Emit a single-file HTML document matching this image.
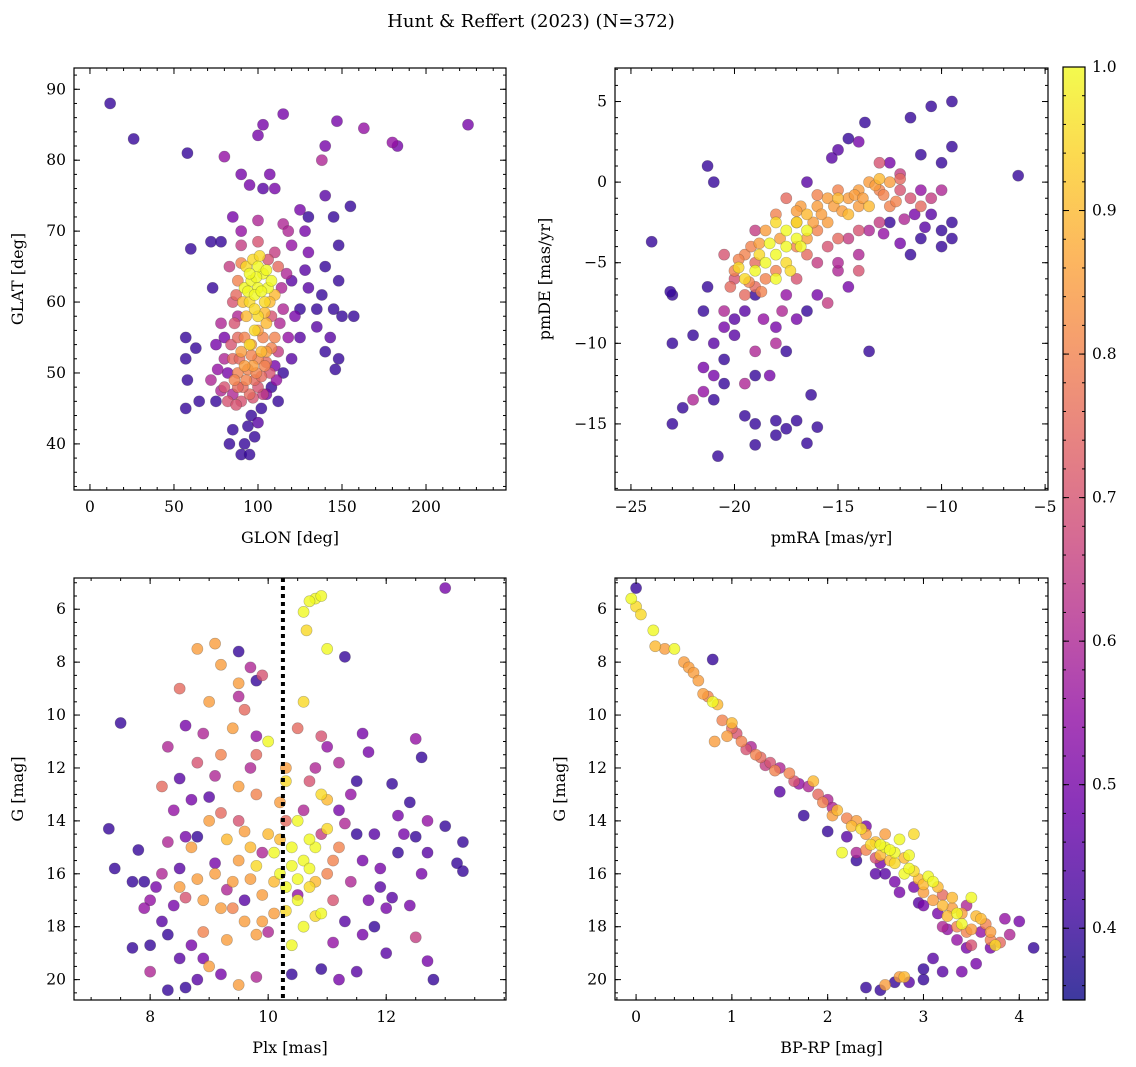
<!DOCTYPE html>
<html><head><meta charset="utf-8">
<style>
body{margin:0;background:#fff;}
svg{display:block;font-family:"DejaVu Serif","Liberation Serif",serif;}
</style></head>
<body>
<svg id="fig" width="1136" height="1067" viewBox="0 0 1136 1067">
<text x="531" y="27" text-anchor="middle" font-size="18">Hunt &amp; Reffert (2023) (N=372)</text>
</svg>
<script>
// ---- data: [x, y, membership probability] ----
const skyPts = [[12,88,.4],[26,83,.4],[58,81,.4],[80,80.5,.55],[100,83.5,.5],[103,85,.5],[115,86.5,.5],[147,85.5,.5],[163,84.5,.55],[180,82.5,.55],[183,82,.5],[225,85,.5],[138,80,.6],[140,82,.5],[90,78,.5],[95,76.5,.5],[103,76,.45],[107,78,.5],[110,76,.5],[125,73,.5],[140,75,.45],[145,72,.4],[155,73.5,.4],[130,72,.4],[60,67.5,.4],[72,68.5,.4],[78,68.5,.4],[85,72,.5],[90,70,.55],[100,71.5,.6],[115,71,.6],[118,70,.6],[128,70,.5],[100,68.5,.7],[110,67,.65],[120,68,.55],[130,67,.5],[148,68,.4],[140,65,.4],[138,61,.4],[148,63,.4],[120,63,.45],[130,62,.45],[125,59,.4],[135,59,.4],[145,59,.4],[150,58,.4],[157,58,.4],[143,55,.45],[140,53,.4],[148,52,.4],[146,50.5,.4],[125,55,.45],[120,52,.45],[110,51,.5],[115,50,.4],[108,48,.4],[112,46,.4],[102,45,.4],[96,44,.4],[98,41,.4],[92,40,.4],[90,38.5,.4],[95,38.5,.4],[83,40,.4],[85,42,.4],[75,46,.4],[65,46,.4],[57,45,.4],[58,49,.4],[57,52,.4],[57,55,.4],[63,53.5,.4],[73,62,.4],[80,55,.5],[78,57,.6],[82,50,.5],[78,47.5,.6],[72,49,.6],[80,48,.7],[85,52,.75],[88,50,.8],[90,53,.85],[93,49,.8],[97,51,.85],[100,52,.8],[103,55,.8],[105,53,.85],[95,47,.75],[90,46,.7],[100,48,.7],[107,50,.7],[85,47,.6],[88,55,.75],[93,58,.9],[98,56,.95],[100,58,.95],[95,60,.95],[92,62,1],[96,63,1],[100,62,1],[103,64,1],[106,62,1],[100,65,1],[93,65,.95],[104,60,.95],[108,63,1],[110,61,.9],[97,66,.95],[88,63,.8],[85,60,.7],[83,65,.65],[90,68,.65],[105,57,.9],[102,53,.9],[95,54,.95],[110,55,.8],[108,58,.7],[115,59,.6],[112,65,.75],[117,64,.6],[88,58,.6],[92,51,.85],[86,49,.8],[98,49,.75],[104,51,.8],
[82,46,.7],[87,45.5,.7],[91,48,.75],[94,50.5,.8],[96,52.5,.8],[99,50,.8],[102,49.5,.75],[105,51.5,.75],[108,53.5,.8],[92,55,.8],[96,54,.85],[100,56,.85],[104,58.5,.9],[98,59,.95],[94,61.5,1],[98,61,1],[102,61.5,1],[105,64.5,1],[99,63.5,1],[95,64,1],[91,60,.9],[101,66.5,.95],[107,60,.9],[89,52,.75],[84,54,.7],[86,57,.7],[112,53,.65],[113,57,.6],[118,55,.55],[80,52,.6],[76,50.5,.55],[88,48,.75],[97,46.5,.7],[103,47,.65],[111,49,.55],[90,65.5,.8],[87,61,.75],[106,66,.7],[114,62,.6],[122,58,.5],[75,54,.5],[94,42.5,.4],[100,43,.45],[105,47,.5],[135,56.5,.45],[128,64.5,.45]];
const pmPts = [[-24,-3.7,.4],[-21.3,1,.4],[-21,0,.4],[-9.5,5,.4],[-10.5,4.7,.4],[-11.5,4,.4],[-13.7,3.7,.4],[-14.5,2.7,.4],[-14,2.5,.5],[-15,2,.45],[-15.3,1.5,.45],[-12.5,1.2,.5],[-11,1.7,.4],[-10,1.2,.4],[-9.5,2.2,.4],[-6.3,.4,.4],[-16.5,0,.45],[-9.5,-2.5,.4],[-9.5,-3.5,.4],[-10,-3,.4],[-10.5,-2,.45],[-11,-3.5,.4],[-10,-4,.4],[-11.5,-4.5,.4],[-12,-3.8,.5],[-12.5,-2.5,.4],[-13.5,-10.5,.4],[-14.5,-6.5,.5],[-15,-5.5,.6],[-16,-7,.5],[-16.5,-8,.4],[-17,-8.5,.5],[-17.5,-7,.55],[-18,-9,.5],[-18,-10,.6],[-19,-10.5,.6],[-19.5,-12.5,.6],[-19,-12,.4],[-20.5,-11,.4],[-20.5,-12.5,.4],[-21,-12,.5],[-21.5,-11.5,.5],[-21.5,-13,.55],[-22,-13.5,.6],[-22.5,-14,.4],[-21,-13.5,.4],[-23,-15,.4],[-23,-10,.4],[-23,-7,.4],[-23.1,-6.8,.4],[-21.3,-6.5,.4],[-21.5,-8,.4],[-22,-9.5,.4],[-20.5,-9,.5],[-20,-9.5,.45],[-20,-8.5,.45],[-19.5,-8,.45],[-20.8,-17,.4],[-19.5,-14.5,.4],[-19,-15,.4],[-19,-16.3,.4],[-18,-15.7,.4],[-17.5,-15.3,.4],[-18,-14.8,.4],[-17,-14.8,.4],[-16.5,-16.2,.4],[-16.3,-13.2,.4],[-16,-15.2,.4],[-18.3,-12,.5],[-17.5,-10.5,.4],[-15,-5,.6],[-19,-7,.4],[-20,-5.5,.8],[-19.5,-4.5,.8],[-19,-5,.75],[-18.5,-3,.85],[-18,-2,.8],[-17.5,-1,.75],[-17,-2.5,.85],[-16.5,-2,.9],[-16,-1.5,.85],[-15.5,-1,.85],[-15,-.5,.8],[-14.5,-1,.85],[-14,-1.5,.85],[-13.5,0,.85],[-13,-.5,.8],[-12.5,0,.85],[-12,-.5,.7],[-11.5,-1,.7],[-11,-1.5,.75],[-10.5,-1,.65],[-10,-.5,.6],[-14,-3,.7],[-13,-2.5,.65],[-15,-3.5,.75],[-16,-3,.8],[-17,-4,.8],[-18,-5.5,.8],[-19,-6.5,.75],[-19.5,-7,.75],[-20,-6,.7],[-20.5,-4.5,.7],[-18.5,-6,.8],[-13,1.2,.7],[-12,.5,.65],[-11,-.5,.55],[-14.5,-2,.9],[-13.5,-1.5,.9],[-15.5,-2.5,.85],[-16.5,-3.5,.85],[-19,-3,.65],[-17,-6,.7],[-14,-5.5,.7],[-15.5,-7.5,.65],[-16.5,-4.5,.75],[-12.5,-1.5,.8],[-13,.2,.9],[-14,-.5,.85],[-18.5,-5,1],[-18,-4.5,1],[-17.5,-4,1],[-17,-3.5,1],[-16.8,-4,1],[-18,-6,1],[-19,-5.5,1],[-17.5,-3,1],[-18.8,-4.5,.95],[-17,-2.5,.95],[-19.5,-6,.95],[-19.8,-5.3,.95],[-18.3,-3.8,1],[-17.5,-5,.95],[-16.5,-3,1],[-18,-2.5,.95],[-17.3,-5.5,.95],
[-15.8,-2,.85],[-15.2,-1.5,.85],[-14.8,-1.8,.85],[-14.2,-.8,.85],[-13.8,-1,.85],[-13.2,-.2,.85],[-12.8,-.8,.8],[-12.2,-1.2,.8],[-16.2,-2.5,.85],[-16.8,-1.5,.85],[-17.8,-3.5,.85],[-18.8,-3.8,.85],[-19.2,-4,.8],[-19.8,-4.8,.8],[-20.2,-6.5,.75],[-19.3,-6.2,.8],[-18.7,-6.8,.8],[-15.5,-4,.7],[-14.5,-3.5,.65],[-13.5,-3,.6],[-12.8,-3.2,.55],[-11.8,-2.3,.6],[-11.3,-2,.5],[-10.8,-2.8,.45],[-14,-4.5,.6],[-16,-5,.65],[-17.7,-8,.6],[-18.6,-8.5,.55],[-20.5,-8,.6],[-21,-10,.45],[-15,-1,.9],[-16,-.8,.8],[-17,-1.8,.85],[-12,0.2,.75]];
const plxPts = [[10.8,5.6,1],[10.7,5.7,1],[10.9,5.5,1],[10.6,6.1,1],[10.65,6.8,.95],[11,7.5,1],[10,11,1],[10.6,9.5,.95],[10.3,12.5,.95],[10.9,13,.95],[10.5,14,1],[10.4,15,1],[10.6,15.5,1],[10.8,15,1],[10.2,16,1],[10.5,17,1],[10.7,16.5,.95],[10.9,17.5,1],[10.6,18,1],[10.4,18.7,1],[10.1,15.2,1],[9.8,15.7,.95],[11,14.3,.95],[10.7,14.7,1],[10.3,16.5,1],[10.8,17.6,.95],[11,13.2,.9],[8.8,7.5,.85],[9.1,7.3,.85],[9.2,8.1,.85],[9.5,8.8,.85],[9,9.5,.85],[9.4,10.5,.85],[9.2,11.5,.8],[9.5,12.7,.85],[9.8,13,.8],[9,14,.85],[8.7,15,.85],[9.3,14.7,.9],[9.5,15.5,.85],[9.7,16.2,.85],[9.9,16.8,.85],[10.1,17.5,.85],[9.6,17.8,.85],[9.3,18.5,.85],[9,19.5,.85],[9.5,20.2,.85],[10,14.5,.9],[10.2,13.3,.85],[9.1,16,.85],[8.9,17,.85],[8.5,16.5,.85],[9.8,18.3,.85],[10.3,12,.85],[9.8,11.5,.75],[10.5,10.5,.75],[10.7,12.5,.7],[9.9,8.5,.7],[8.5,9,.75],[8.2,12.7,.75],[10.9,10.8,.7],[11.2,15,.8],[11,16,.8],[10.3,14,.75],[9.6,9.8,.75],[8.8,11.8,.7],[9.2,13.7,.75],[7.3,14.3,.4],[7.5,10.3,.4],[7.4,15.8,.4],[7.7,16.3,.4],[7.8,15.1,.4],[7.9,16.3,.4],[7.7,18.8,.4],[8,18.7,.4],[8,17,.55],[8.1,16.5,.5],[8,19.7,.6],[8.3,18.3,.4],[8.2,17.8,.45],[8.4,17.2,.5],[8.3,20.4,.4],[8.6,20.3,.4],[8.5,19.2,.45],[8.7,18.7,.5],[8.4,13.6,.55],[8.3,11.2,.6],[8.5,12.4,.45],[8.6,10.4,.5],[8.9,10.7,.6],[9,13.1,.45],[8.6,14.6,.5],[8.8,14.6,.4],[9.5,7.6,.4],[9.8,8.7,.4],[9.7,8.2,.6],[9.5,9.3,.6],[9.8,10.8,.55],[11.3,7.8,.4],[11.2,11.8,.6],[11.5,12.5,.4],[11.6,10.7,.5],[11.7,11.4,.5],[11.2,13.6,.5],[11.5,14.5,.4],[11.6,15.5,.5],[11.8,14.5,.45],[11.9,16.5,.45],[12,17.3,.5],[12.1,12.6,.4],[12.2,15.2,.4],[12.3,14.5,.5],[12.4,13.3,.4],[12.5,10.9,.55],[12.6,11.6,.4],[12.5,14.6,.4],[12.7,15.2,.45],[12.6,16,.5],[12.4,17.2,.5],[12.5,18.4,.65],[12.7,19.3,.5],[12.8,20,.4],[13,14.2,.4],[13.3,14.8,.4],[13.3,15.9,.4],[13.2,15.6,.4],[12.7,14,.55],[13,5.2,.5],[11.8,18,.4],[11.5,19.7,.45],[11.1,18.6,.55],[11.3,17.8,.45],[10.9,19.6,.4],[10.4,19.8,.4],[11.2,20,.5],[9.8,19.9,.6],[9.2,19.8,.5],[8.8,20,.45],[10,18.2,.6],[10.5,16.8,.55],[11.4,16.3,.6],[11.7,17,.5],[10.9,14.5,.65],[11.3,14.1,.6],[11.4,13,.55],[7.9,17.3,.55],[8.2,16,.6],[8.5,15.8,.45],[9.1,15.6,.5],[9.3,16.6,.6],[9.6,17,.45],[9.9,15.2,.6],[10.6,13.6,.6],[11.9,15.8,.5],[12.1,16.9,.45],
[9.4,16.3,.85],[9.6,14.4,.85],[9.2,17.3,.85],[8.8,16.2,.85],[9.7,15,.9],[10.1,16.3,.9],[9.9,17.8,.85],[9.4,17.3,.8],[8.9,18.2,.8],[10.4,15.7,1],[10.7,15.8,1],[10.5,16.2,1],[10.3,17.4,.95],[10.8,16.3,.9],[11.1,15.5,.8],[11.1,17,.7],[10.2,14.7,.9],[9.5,14,.7],[8.6,16.9,.7],[8.3,14.8,.6],[10.8,12,.6],[11,11.2,.55],[9.7,12,.6],[9.1,12.3,.6],[8.7,13.2,.5],[12.2,13.8,.5],[12,19,.45],[11.6,18.3,.5],[8.9,19.2,.5]];
const cmdPts = [[0,5.2,.4],[-.05,5.6,1],[0,5.9,.95],[.05,6.2,.95],[.18,6.8,1],[.2,7.4,.9],[.3,7.5,.85],[.4,7.5,1],[.5,8,.85],[.55,8.2,.85],[.6,8.4,.85],[.65,8.7,.85],[.8,7.9,.4],[.75,9.3,.8],[.8,9.5,1],[.85,9.6,.9],[.82,11,.85],[.9,10.2,.8],[1,10.5,.75],[1.05,10.7,.7],[1.1,11,.8],[1.2,11.2,.6],[1.3,11.6,.75],[1.4,11.8,.7],[1.5,12,.6],[1.6,12.2,.8],[1.7,12.6,.55],[1.8,12.7,.6],[1.85,12.5,.9],[1.9,13,.75],[2,13.2,.6],[2,14.4,.4],[2.05,13.5,.6],[2.1,13.6,.9],[2.15,15.2,1],[2.2,13.9,.8],[2.2,14.6,.45],[2.3,14,.85],[2.3,15.5,.4],[2.4,14.5,.85],[2.4,14.2,.5],[2.5,14.8,.9],[2.5,16,.45],[2.55,15.6,.5],[2.6,15,1],[2.6,14.5,.85],[2.65,15.5,.9],[2.7,16.3,.5],[2.7,15.2,1],[2.75,14.7,1],[2.8,15.4,.9],[2.8,16,1],[2.85,15.8,1],[2.9,14.5,.95],[2.9,16.5,.5],[2.95,16.2,.9],[3,16.7,.85],[3,17.2,.5],[3.05,16.1,1],[3.1,17,.85],[3.15,17.5,.5],[3.2,16.8,.75],[3.25,17.6,.9],[3.3,17.3,.85],[3.35,18,.8],[3.35,18.5,.55],[3.4,17.9,1],[3.45,17.2,.6],[3.5,16.9,1],[3.5,18.1,.85],[3.6,18.2,.55],[3.65,17.9,.8],[3.7,18.8,.5],[3.75,18.7,.95],[3.8,18.6,.75],[3.85,17.7,.55],[4,17.8,.5],[4.15,18.8,.4],[3.55,19.4,.5],[3.4,19.7,.5],[3.2,19.7,.45],[3,19.6,.4],[3,20,.4],[2.85,20.1,.45],[2.7,20.1,.4],[2.8,19.9,.9],[2.75,19.9,.85],[2.6,20.2,.85],[2.55,20.4,.4],[2.4,20.3,.4],[3.1,19.2,.45],[2.3,15.2,.6],[1.75,13.8,.4],[1.5,12.9,.45],[2.5,15.4,.7],[3.2,18,.6],[3.5,18.7,.7],[.95,10.8,.85],[1.25,11.5,.8],[2.35,14.3,.95],[2.55,14.9,1],[3.15,16.5,.9],[3.35,17.5,1],[3.55,17.6,.9],[3.7,18.2,.85],
[1.15,11.3,.7],[1.35,11.9,.65],[1.45,12.1,.8],[1.65,12.5,.7],[1.95,13.3,.8],[2.25,14.2,.9],[2.45,14.9,.95],[2.65,15.1,1],[2.7,15.6,.95],[2.85,15.3,1],[2.9,15.9,.95],[3,16.4,.9],[3.1,16.3,1],[3.2,17.2,.9],[3.3,16.9,.9],[3.4,17.5,.85],[3.45,18.2,.8],[3.6,17.7,.9],[3.7,18.5,.8],[2.6,16,.45],[2.75,16.7,.5],[2.95,17.1,.45],[3.25,18.1,.55],[3.45,18.8,.5],[3.9,18.3,.6],[1.0,10.3,.9],[0.7,9.2,.85],[2.05,13.8,.85],[2.4,15.1,.8],[2.55,15.3,.9]];
const cbTicks = [0.4,0.5,0.6,0.7,0.8,0.9,1.0];
const vmin = 0.35, vmax = 1.0;
const plxRef = 10.25;

const NS='http://www.w3.org/2000/svg';
const svg=document.getElementById('fig');
function mk(tag,attrs,parent){const e=document.createElementNS(NS,tag);for(const k in attrs)e.setAttribute(k,attrs[k]);(parent||svg).appendChild(e);return e;}
const stops=['#0d0887','#41049d','#6a00a8','#8f0da4','#b12a90','#cc4778','#e16462','#f2844b','#fca636','#fcce25','#f0f921'];
function hex(h){return [1,3,5].map(i=>parseInt(h.substr(i,2),16));}
function cmap(v){let t=(v-vmin)/(vmax-vmin);t=Math.max(0,Math.min(1,t));const f=t*10,i=Math.min(9,Math.floor(f)),r=f-i;const a=hex(stops[i]),b=hex(stops[i+1]);return 'rgb('+a.map((c,k)=>Math.round(c+(b[k]-c)*r)).join(',')+')';}

function panel(o){
  const g=mk('g',{});
  
  
  const X=v=>o.x0+(v-o.xmin)/(o.xmax-o.xmin)*(o.x1-o.x0);
  const Y=v=>o.inv? o.y0+(v-o.ymin)/(o.ymax-o.ymin)*(o.y1-o.y0) : o.y1-(v-o.ymin)/(o.ymax-o.ymin)*(o.y1-o.y0);
  const pts=o.pts.slice().sort((a,b)=>a[2]-b[2]);
  const pg=mk('g',{},g);
  
  
  for(const p of pts){
    const c=mk('circle',{cx:X(p[0]),cy:Y(p[1]),r:5.6,fill:cmap(p[2]),'fill-opacity':0.8,stroke:'rgba(60,60,60,0.35)','stroke-width':0.6},pg);
    
    
  }
  if(o.vline!==undefined){
    const l=mk('line',{x1:X(o.vline),x2:X(o.vline),y1:o.y0,y2:o.y1,stroke:'#000','stroke-width':4,'stroke-dasharray':'4,4'},g);
    
    
  }
  const fr=mk('rect',{x:o.x0,y:o.y0,width:o.x1-o.x0,height:o.y1-o.y0,fill:'none',stroke:'#000','stroke-width':1.2},g);
  
  
  const tg=mk('g',{stroke:'#000','stroke-width':1},g);
  
  
  const eps=1e-6;
  function rng(a,b,s){const r=[];for(let v=Math.ceil(Math.min(a,b)/s-eps)*s;v<=Math.max(a,b)+eps;v+=s)r.push(+v.toFixed(6));return r;}
  for(const v of rng(o.xmin,o.xmax,o.xminor)){const x=X(v);mk('line',{x1:x,x2:x,y1:o.y1,y2:o.y1-3},tg);mk('line',{x1:x,x2:x,y1:o.y0,y2:o.y0+3},tg);}
  for(const v of rng(o.ymin,o.ymax,o.yminor)){const y=Y(v);mk('line',{x1:o.x0,x2:o.x0+3,y1:y,y2:y},tg);mk('line',{x1:o.x1,x2:o.x1-3,y1:y,y2:y},tg);}
  for(const v of o.xticks){const x=X(v);mk('line',{x1:x,x2:x,y1:o.y1,y2:o.y1-6},tg);mk('line',{x1:x,x2:x,y1:o.y0,y2:o.y0+6},tg);
    const t=mk('text',{x:x,y:o.y1+22,'text-anchor':'middle','font-size':15.5},g);t.textContent=String(v).replace('-','\u2212');
    }
  for(const v of o.yticks){const y=Y(v);mk('line',{x1:o.x0,x2:o.x0+6,y1:y,y2:y},tg);mk('line',{x1:o.x1,x2:o.x1-6,y1:y,y2:y},tg);
    const t=mk('text',{x:o.x0-8,y:y+5,'text-anchor':'end','font-size':15.5},g);t.textContent=String(v).replace('-','\u2212');
    }
  const xl=mk('text',{x:(o.x0+o.x1)/2,y:o.y1+53,'text-anchor':'middle','font-size':16},g);xl.textContent=o.xlabel;
  
  const cy=(o.y0+o.y1)/2;
  const yl=mk('text',{x:o.ylx,y:cy,'text-anchor':'middle','font-size':16,transform:'rotate(-90 '+o.ylx+' '+cy+')'},g);yl.textContent=o.ylabel;
  
}

panel({name:'panel-sky-position',pts:skyPts,x0:74,x1:506,y0:68,y1:490,xmin:-9.5,xmax:247.6,ymin:33.5,ymax:93,xticks:[0,50,100,150,200],yticks:[40,50,60,70,80,90],xminor:10,yminor:2,xlabel:'GLON [deg]',ylabel:'GLAT [deg]',ylx:23});
panel({name:'panel-proper-motion',pts:pmPts,x0:615,x1:1048,y0:68,y1:490,xmin:-25.77,xmax:-4.86,ymin:-19.1,ymax:7.08,xticks:[-25,-20,-15,-10,-5],yticks:[-15,-10,-5,0,5],xminor:1,yminor:1,xlabel:'pmRA [mas/yr]',ylabel:'pmDE [mas/yr]',ylx:550});
panel({name:'panel-parallax-magnitude',pts:plxPts,x0:74,x1:506,y0:578,y1:1000,xmin:6.71,xmax:14.03,ymin:4.82,ymax:20.77,inv:true,xticks:[8,10,12],yticks:[6,8,10,12,14,16,18,20],xminor:0.5,yminor:0.5,xlabel:'Plx [mas]',ylabel:'G [mag]',ylx:23,vline:plxRef});
panel({name:'panel-color-magnitude',pts:cmdPts,x0:615,x1:1048,y0:578,y1:1000,xmin:-0.22,xmax:4.3,ymin:4.82,ymax:20.77,inv:true,xticks:[0,1,2,3,4],yticks:[6,8,10,12,14,16,18,20],xminor:0.2,yminor:0.5,xlabel:'BP-RP [mag]',ylabel:'G [mag]',ylx:565});

// colorbar
(function(){
  const x0=1063,x1=1085,y0=67,y1=1000;
  const g=mk('g',{});
  
  
  const defs=mk('defs',{},g);
  const lg=mk('linearGradient',{id:'cbg',x1:0,y1:1,x2:0,y2:0},defs);
  stops.forEach((s,i)=>mk('stop',{offset:i/10,'stop-color':s,'stop-opacity':0.8},lg));
  mk('rect',{x:x0,y:y0,width:x1-x0,height:y1-y0,fill:'url(#cbg)'},g);
  mk('rect',{x:x0,y:y0,width:x1-x0,height:y1-y0,fill:'none',stroke:'#000','stroke-width':1.2},g);
  const Y=v=>y1-(v-vmin)/(vmax-vmin)*(y1-y0);
  for(let v=0.36;v<=1.0001;v+=0.02){const y=Y(v);mk('line',{x1:x1,x2:x1-3,y1:y,y2:y,stroke:'#000'},g);mk('line',{x1:x0,x2:x0+3,y1:y,y2:y,stroke:'#000'},g);}
  for(const v of cbTicks){const y=Y(v);mk('line',{x1:x1,x2:x1-6,y1:y,y2:y,stroke:'#000'},g);mk('line',{x1:x0,x2:x0+6,y1:y,y2:y,stroke:'#000'},g);
    const t=mk('text',{x:x1+7,y:y+5,'font-size':15.5},g);t.textContent=v.toFixed(1);
    }
})();
</script>
</body></html>
